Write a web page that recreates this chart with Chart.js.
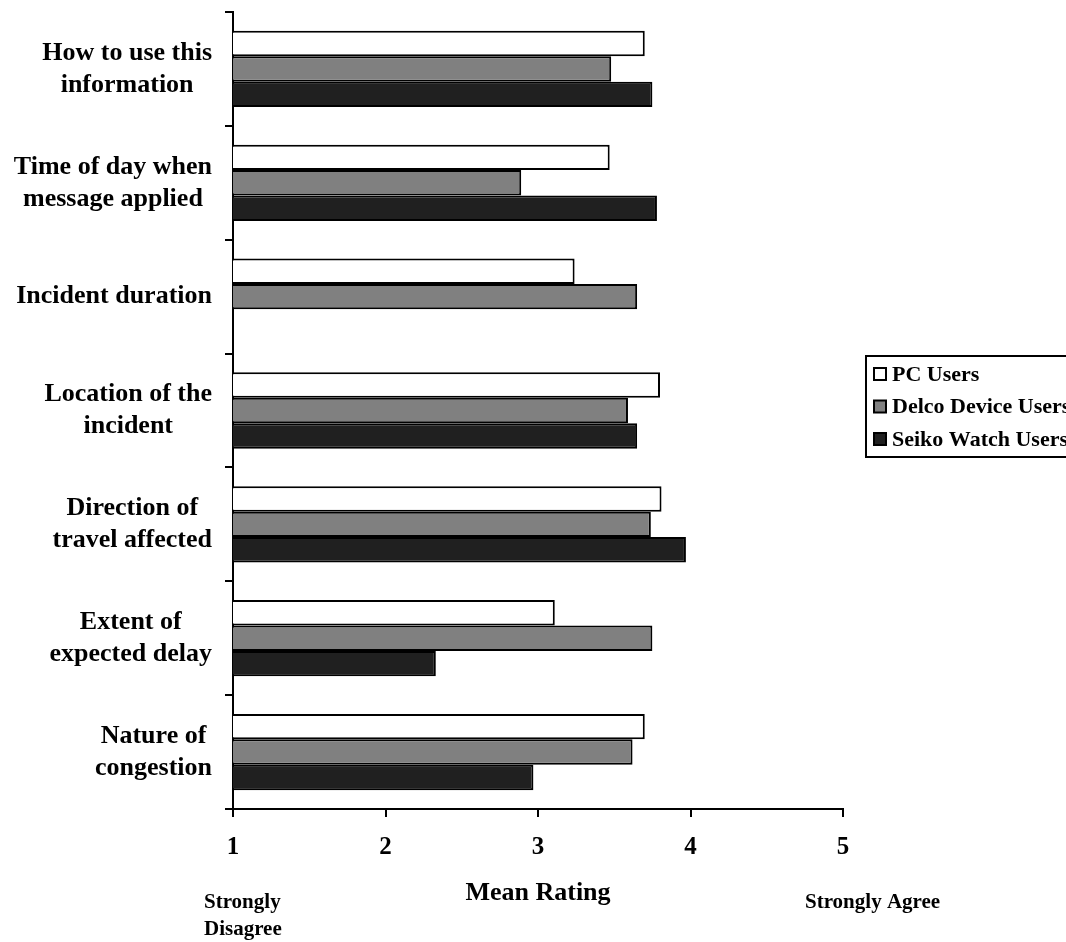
<!DOCTYPE html>
<html>
<head>
<meta charset="utf-8">
<script src="https://cdn.jsdelivr.net/npm/chart.js@4.4.0/dist/chart.umd.min.js"></script>
<style>
  html, body { margin: 0; padding: 0; background: #fff; }
  #wrap { width: 1066px; height: 942px; position: relative; }
</style>
</head>
<body>
<div id="wrap"><canvas id="ratingChart"></canvas></div>
<script>
// categories, top to bottom
const categories = [
  ['How to use this', 'information'],
  ['Time of day when', 'message applied'],
  ['Incident duration'],
  ['Location of the', 'incident'],
  ['Direction of', 'travel affected'],
  ['Extent of', 'expected delay'],
  ['Nature of', 'congestion']
];
const pcUsers = [3.70, 3.47, 3.24, 3.80, 3.81, 3.11, 3.70];
const delcoUsers = [3.48, 2.89, 3.65, 3.59, 3.74, 3.75, 3.62];
const seikoUsers = [3.75, 3.78, null, 3.65, 3.97, 2.33, 2.97];
const seriesNames = ['PC Users', 'Delco Device Users', 'Seiko Watch Users'];
const seriesColors = ['#ffffff', '#808080', '#202020'];
const xTicks = [1, 2, 3, 4, 5];

const serif = '"Liberation Serif", "Times New Roman", serif';

// category labels, legend box and the two scale-end notes
const extraText = {
  id: 'extraText',
  afterDraw(chart) {
    const ctx = chart.ctx;
    const yScale = chart.scales.y;
    const area = chart.chartArea;
    ctx.save();
    ctx.fillStyle = '#000';
    ctx.textBaseline = 'middle';

    ctx.font = 'bold 26px ' + serif;
    ctx.textAlign = 'center';
    categories.forEach((lines, i) => {
      const cy = yScale.getPixelForTick(i);
      const w = Math.max(...lines.map(l => ctx.measureText(l).width));
      const cx = area.left - 21 - w / 2;
      lines.forEach((l, j) => {
        ctx.fillText(l, cx, cy + (j - (lines.length - 1) / 2) * 32);
      });
    });

    // legend
    const lx = 866, ly = 356;
    ctx.lineWidth = 2;
    ctx.strokeStyle = '#000';
    ctx.strokeRect(lx, ly, 240, 101);
    ctx.font = 'bold 22px ' + serif;
    ctx.textAlign = 'left';
    chart.data.datasets.forEach((ds, i) => {
      const cy = ly + 18 + i * 32.5;
      ctx.fillStyle = ds.backgroundColor;
      ctx.fillRect(lx + 8, cy - 6, 12, 12);
      ctx.strokeRect(lx + 8, cy - 6, 12, 12);
      ctx.fillStyle = '#000';
      ctx.fillText(ds.label, lx + 26, cy + 1);
    });

    // scale-end notes
    ctx.font = 'bold 21px ' + serif;
    ctx.fillText('Strongly', 204, 903);
    ctx.fillText('Disagree', 204, 930);
    ctx.fillText('Strongly Agree', 805, 903);
    ctx.restore();
  }
};

const datasets = [pcUsers, delcoUsers, seikoUsers].map((vals, i) => ({
  label: seriesNames[i],
  data: vals,
  backgroundColor: seriesColors[i],
  borderColor: '#000',
  borderWidth: 2,
  borderSkipped: false,
  categoryPercentage: 0.67,
  barPercentage: 1.0
}));

new Chart(document.getElementById('ratingChart').getContext('2d'), {
  type: 'bar',
  data: {
    labels: categories,
    datasets: datasets
  },
  options: {
    indexAxis: 'y',
    responsive: true,
    maintainAspectRatio: false,
    animation: false,
    layout: { padding: { top: 12, right: 223, bottom: 0, left: 0 } },
    plugins: {
      legend: { display: false },
      tooltip: { enabled: false }
    },
    scales: {
      x: {
        type: 'linear',
        min: xTicks[0],
        max: xTicks[xTicks.length - 1],
        afterBuildTicks: s => { s.ticks = xTicks.map(v => ({ value: v })); },
        afterFit: s => { s.height = 133; },
        grid: { drawOnChartArea: false, color: '#000', lineWidth: 2, tickLength: 8 },
        border: { color: '#000', width: 2 },
        ticks: {
          color: '#000',
          padding: 16,
          font: { family: serif, size: 25, weight: 'bold' }
        },
        title: {
          display: true,
          text: 'Mean Rating',
          color: '#000',
          font: { family: serif, size: 26, weight: 'bold' },
          padding: { top: 0, bottom: 33 }
        }
      },
      y: {
        afterFit: s => { s.width = 233; },
        grid: { offset: true, drawOnChartArea: false, color: '#000', lineWidth: 2, tickLength: 8 },
        border: { color: '#000', width: 2 },
        ticks: { display: false }
      }
    }
  },
  plugins: [extraText]
});
</script>
</body>
</html>
